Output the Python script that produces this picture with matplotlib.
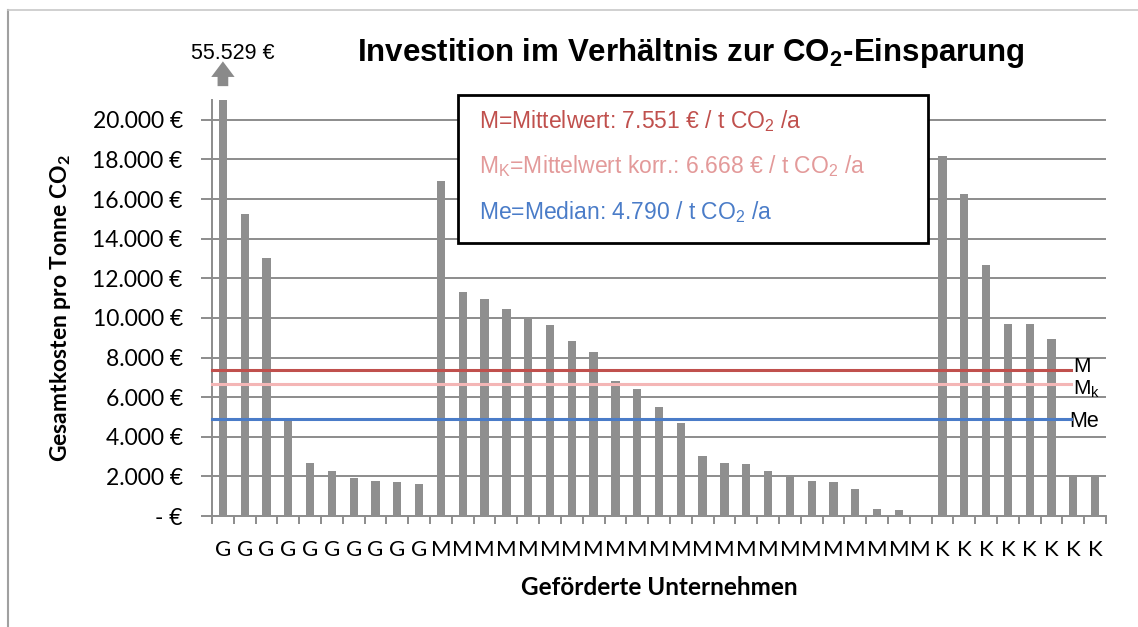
import matplotlib.pyplot as plt
from matplotlib.lines import Line2D

# group of each funded company and its cost per tonne CO2
groups = ["G"] * 10 + ["M"] * 23 + ["K"] * 8
costs = [55529, 15250, 13000, 4800, 2680, 2290, 1940, 1750, 1700, 1620,
         16900, 11330, 10980, 10440, 10070, 9630, 8810, 8280, 6840, 6400,
         5490, 4700, 3050, 2700, 2610, 2290, 1970, 1750, 1700, 1380, 370, 320, 0,
         18170, 16250, 12650, 9700, 9700, 8920, 2050, 2050]

# reference lines (as drawn in the picture)
ref_names = ["M", "M$_\\mathregular{k}$", "Me"]
ref_values = [7360, 6660, 4880]
ref_colors = ["#c0504d", "#f4b6b6", "#4a7cc8"]
legend_texts = ["M=Mittelwert: 7.551 € / t CO$_\\mathregular{2}$ /a",
                "M$_\\mathregular{K}$=Mittelwert korr.: 6.668 € / t CO$_\\mathregular{2}$ /a",
                "Me=Median: 4.790 / t CO$_\\mathregular{2}$ /a"]
legend_colors = ["#c0504d", "#e39a9a", "#4a7cc8"]

yticks = list(range(0, 20001, 2000))
ytick_labels = ["- €"] + ["{:,} €".format(v).replace(",", ".") for v in yticks[1:]]

grid_col = "#8c8c8c"
bar_col = "#8f8f8f"

fig = plt.figure(figsize=(11.38, 6.27), dpi=100)
ax = fig.add_axes([0.1863, 0.177, 0.7856, 0.6635])

x = list(range(len(costs)))
ax.bar(x, costs, width=0.38, color=bar_col, zorder=3)
ax.set_xlim(-0.5, len(costs) - 0.5)
ax.set_ylim(0, 21000)

for v in yticks[1:]:
    ax.axhline(v, color=grid_col, lw=1.4, zorder=1)

# mean / median lines
for name, val, col in zip(ref_names, ref_values, ref_colors):
    ax.plot([-0.5, 38.9], [val, val], color=col, lw=2.2, zorder=4, clip_on=False)
ax.text(39.0, ref_values[0] + 200, "M", fontsize=15, family="Liberation Sans", va="center")
ax.text(39.0, ref_values[1] - 250, "M$_\\mathregular{k}$", fontsize=15, family="Liberation Sans", va="center")
ax.text(38.8, ref_values[2] - 100, "Me", fontsize=15.5, family="Liberation Sans", va="center")

for s in ["top", "right"]:
    ax.spines[s].set_visible(False)
for s in ["left", "bottom"]:
    ax.spines[s].set_color(grid_col)
    ax.spines[s].set_linewidth(1.4)

ax.set_yticks(yticks)
ax.set_yticklabels(ytick_labels, family="Lato", fontsize=16.5)
ax.tick_params(axis="y", length=8, color=grid_col, width=1.4, pad=13)

ax.set_xticks(x)
ax.set_xticklabels(groups, family="Lato", fontsize=16)
ax.set_xticks([i - 0.5 for i in range(len(costs) + 1)], minor=True)
ax.tick_params(axis="x", which="major", length=0, pad=17)
ax.tick_params(axis="x", which="minor", length=6, color=grid_col, width=1.4)

ax.set_ylabel("Gesamtkosten pro Tonne CO$_\\mathregular{2}$", family="Lato",
              fontweight="bold", fontsize=16.5, labelpad=14)
ax.set_xlabel("Geförderte Unternehmen", family="Lato", fontweight="bold",
              fontsize=17.5, labelpad=12)

# arrow and label for the clipped first bar
ax.annotate("", xy=(0, 22950), xytext=(0, 21700),
            arrowprops=dict(arrowstyle="simple,head_length=0.8,head_width=1.2,tail_width=0.55",
                            mutation_scale=14, color="#8a8a8a", lw=0, shrinkA=0, shrinkB=0),
            annotation_clip=False)
ax.text(0.45, 23350, "55.529 €", fontsize=15.5, family="Liberation Sans",
        ha="center", va="center")

fig.text(0.607, 0.915, "Investition im Verhältnis zur CO$_\\mathregular{2}$-Einsparung",
         fontsize=22.5, fontweight="bold", family="Liberation Sans", ha="center", va="center")

# legend-like box
box_x0, box_x1 = 10.8, 32.35
ax.add_patch(plt.Rectangle((box_x0, 13770), box_x1 - box_x0, 7500, fill=True,
                           facecolor="white", edgecolor="black", lw=2, zorder=5,
                           clip_on=False))
for i, (t, c) in enumerate(zip(legend_texts, legend_colors)):
    ax.text(box_x0 + 0.95, 19950 - i * 2300, t, color=c, fontsize=16.5,
            family="Liberation Sans", va="center", zorder=6)

# outer frame
fig.add_artist(Line2D([8 / 1138, 8 / 1138], [0, 1 - 10 / 627], color="#a0a0a0", lw=1.5))
fig.add_artist(Line2D([8 / 1138, 1], [1 - 10 / 627, 1 - 10 / 627], color="#c8c8c8", lw=1.2))

fig.savefig("out.png", dpi=100)
